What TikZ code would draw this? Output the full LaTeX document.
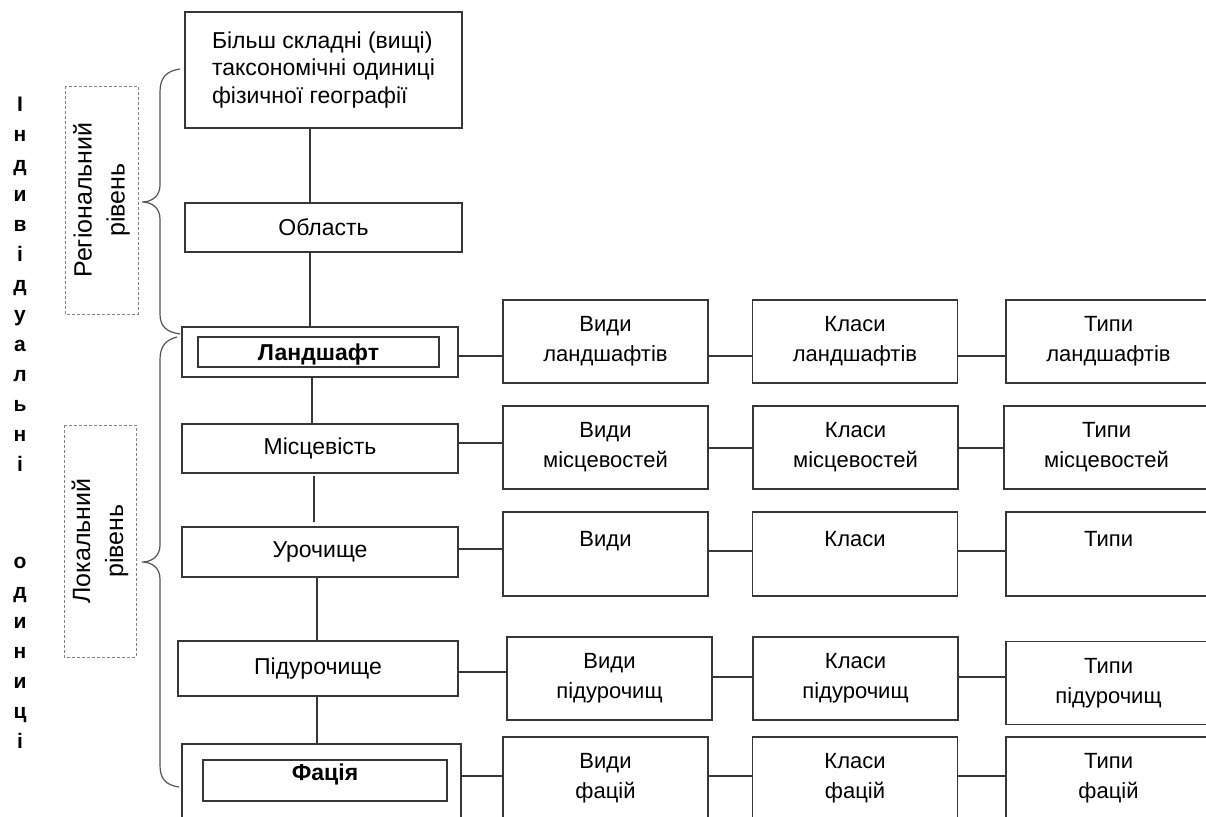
\documentclass[tikz,border=0pt]{standalone}
\usepackage{fontspec}
\setmainfont{Liberation Sans}
\definecolor{ln}{RGB}{55,55,55}
\definecolor{br}{RGB}{85,85,85}
\definecolor{dsh}{RGB}{130,130,130}
\begin{document}
\begin{tikzpicture}[x=1pt,y=-1pt,
  box/.style={draw=ln, line width=1.3pt, inner sep=0pt, outer sep=0pt, rectangle},
  lt/.style={font=\fontsize{23}{27}\selectfont, align=center},
  rt/.style={font=\fontsize{22}{30}\selectfont, align=center},
  lbox/.style={box, lt, minimum width=276pt, minimum height=50pt},
  rbox/.style={box, rt, minimum width=205pt, minimum height=83pt},
  conn/.style={draw=ln, line width=1.3pt},
  bracepath/.style={draw=br, line width=1.2pt},
  dbox/.style={draw=dsh, line width=0.8pt, dash pattern=on 3pt off 2pt, rotate=90, inner sep=0pt, font=\fontsize{25}{33}\selectfont, align=center},
  vlet/.style={font=\fontsize{21}{21}\selectfont\bfseries, anchor=base, inner sep=0pt}
]
\clip (0,0) rectangle (1206,816);
\fill[white] (0,0) rectangle (1206,816);

% vertical title letters
\foreach \c [count=\i from 0] in {І,н,д,и,в,і,д,у,а,л,ь,н,і}
  \node[vlet] (a\i) at (20,{111.5+30*\i}) {\c};
\foreach \c [count=\i from 0] in {о,д,и,н,и,ц,і}
  \node[vlet] (b\i) at (20,{568+30*\i}) {\c};

% level labels
\node[dbox, minimum width=228pt, minimum height=73pt] (reg) at (101.5,200) {Регіональний\\рівень};
\node[dbox, minimum width=232pt, minimum height=72pt] (loc) at (100,541) {Локальний\\рівень};

% braces
\draw[bracepath] (180,69) .. controls (166,71) and (160,78) .. (160,92)
  -- (160,185) .. controls (160,196) and (152,202) .. (142,202)
  .. controls (152,202) and (160,208) .. (160,219)
  -- (160,314) .. controls (160,326) and (166,332) .. (180,334);
\draw[bracepath] (177,337) .. controls (165,340) and (160,347) .. (160,360)
  -- (160,545) .. controls (160,556) and (152,562) .. (142,562)
  .. controls (152,562) and (160,568) .. (160,579)
  -- (160,765) .. controls (160,778) and (165,785) .. (179,787);

% left column
\node[box, minimum width=277pt, minimum height=116pt, font=\fontsize{23}{27.5}\selectfont, align=left] (top) at (323.5,70) {Більш складні (вищі)\\таксономічні одиниці\\фізичної географії};
\node[lbox, minimum width=277pt, minimum height=49pt] (obl) at (323.5,227.5) {Область};
\node[lbox] (land) at (320,352) {};
\node[box, lt, minimum width=241pt, minimum height=30pt, text depth=0pt] (landi) at (318.5,352) {\bfseries Ландшафт};
\node[lbox, minimum height=49pt] (mist) at (320,448.5) {Місцевість};
\node[lbox] (uroch) at (320,552) {Урочище};
\node[lbox, minimum width=280pt, minimum height=55pt] (pid) at (318,668.5) {Підурочище};
\node[lbox, minimum width=279pt, minimum height=86pt] (fac) at (321.5,787) {};
\node[box, minimum width=244pt, minimum height=41pt] (faci) at (325,780.5) {};
\node[lt, inner sep=0pt] (fact) at (325,774) {\bfseries Фація};

% right boxes
\node[rbox] (v1) at (605.5,341.5) {Види\\ландшафтів};
\node[rbox] (k1) at (855,341.5) {Класи\\ландшафтів};
\node[rbox] (t1) at (1108.5,341.5) {Типи\\ландшафтів};

\node[rbox] (v2) at (605.5,447.5) {Види\\місцевостей};
\node[rbox] (k2) at (855.5,447.5) {Класи\\місцевостей};
\node[rbox] (t2) at (1106.5,447.5) {Типи\\місцевостей};

\node[rbox, minimum height=84pt] (v3) at (605.5,554) {Види\\\mbox{}};
\node[rbox, minimum height=84pt] (k3) at (855,554) {Класи\\\mbox{}};
\node[rbox, minimum height=84pt] (t3) at (1108.5,554) {Типи\\\mbox{}};

\node[rbox] (v4) at (609.5,678.5) {Види\\підурочищ};
\node[rbox] (k4) at (855.5,678.5) {Класи\\підурочищ};
\node[rbox] (t4) at (1108.5,683) {Типи\\підурочищ};

\node[rbox] (v5) at (605.5,778.5) {Види\\фацій};
\node[rbox] (k5) at (855,778.5) {Класи\\фацій};
\node[rbox] (t5) at (1108.5,778.5) {Типи\\фацій};

% helper coordinates
\coordinate (xa) at (310,0);
\coordinate (xb) at (312,0);
\coordinate (xc) at (314,0);
\coordinate (xd) at (317,0);
\coordinate (y1) at (0,356);
\coordinate (y2a) at (0,443);
\coordinate (y2b) at (0,448);
\coordinate (y3a) at (0,549);
\coordinate (y3b) at (0,551);
\coordinate (y4a) at (0,672);
\coordinate (y4b) at (0,677);
\coordinate (y5) at (0,776);

% vertical connectors
\draw[conn] (top.south -| xa) -- (obl.north -| xa);
\draw[conn] (obl.south -| xa) -- (land.north -| xa);
\draw[conn] (land.south -| xb) -- (mist.north -| xb);
\draw[conn, shorten <=3pt, shorten >=5pt] (mist.south -| xc) -- (uroch.north -| xc);
\draw[conn] (uroch.south -| xd) -- (pid.north -| xd);
\draw[conn] (pid.south -| xd) -- (fac.north -| xd);

% horizontal connectors
\draw[conn] (land.east |- y1) -- (v1.west |- y1);
\draw[conn] (v1.east |- y1) -- (k1.west |- y1);
\draw[conn] (k1.east |- y1) -- (t1.west |- y1);

\draw[conn] (mist.east |- y2a) -- (v2.west |- y2a);
\draw[conn] (v2.east |- y2b) -- (k2.west |- y2b);
\draw[conn] (k2.east |- y2b) -- (t2.west |- y2b);

\draw[conn] (uroch.east |- y3a) -- (v3.west |- y3a);
\draw[conn] (v3.east |- y3b) -- (k3.west |- y3b);
\draw[conn] (k3.east |- y3b) -- (t3.west |- y3b);

\draw[conn] (pid.east |- y4a) -- (v4.west |- y4a);
\draw[conn] (v4.east |- y4b) -- (k4.west |- y4b);
\draw[conn] (k4.east |- y4b) -- (t4.west |- y4b);

\draw[conn] (fac.east |- y5) -- (v5.west |- y5);
\draw[conn] (v5.east |- y5) -- (k5.west |- y5);
\draw[conn] (k5.east |- y5) -- (t5.west |- y5);
\end{tikzpicture}
\end{document}
